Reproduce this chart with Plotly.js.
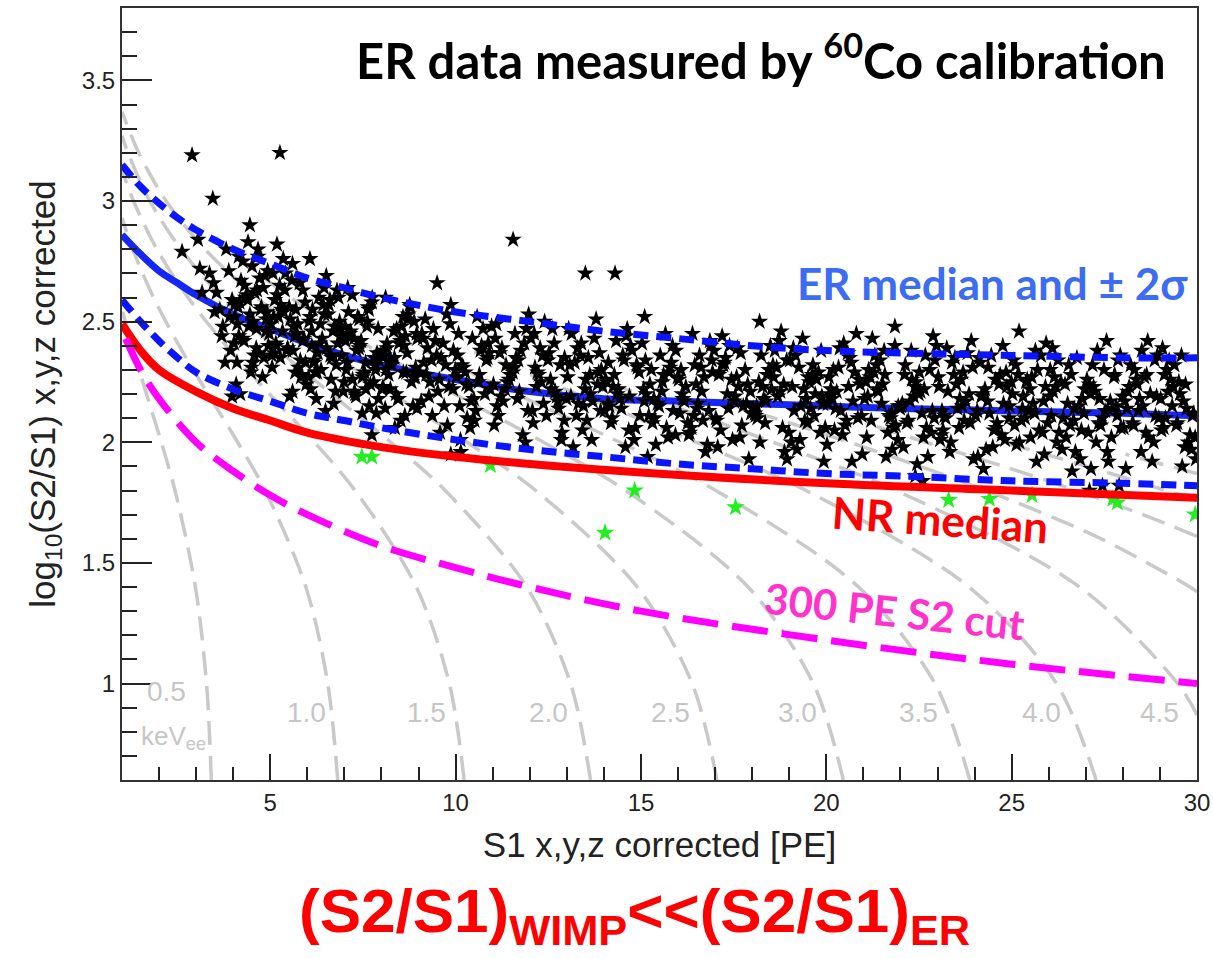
<!DOCTYPE html>
<html>
<head>
<meta charset="utf-8">
<script src="https://cdn.plot.ly/plotly-3.0.1.min.js"></script>
<style>
  html, body { margin: 0; padding: 0; background: #fff; }
  #chart { width: 1213px; height: 959px; }
</style>
</head>
<body>
<div id="chart"></div>
<script>
// ---- iso-energy contours (keVee), S1 [PE] vs log10(S2/S1) ----
const contourLabels = ['0.5', '1.0', '1.5', '2.0', '2.5', '3.0', '3.5', '4.0', '4.5', '5.0', '5.5', '6.0', '6.5'];
const contourS1 = [
  [3.41, 3.28, 2.98, 2.43, 2.06, 1.66, 1.27, 1.09, 1.0],
  [6.82, 6.55, 5.96, 4.86, 4.12, 3.32, 2.54, 1.85, 1.29, 1.0],
  [10.23, 9.83, 8.94, 7.29, 6.19, 4.98, 3.81, 2.78, 1.94, 1.31, 1.0],
  [13.64, 13.10, 11.92, 9.72, 8.25, 6.65, 5.08, 3.70, 2.59, 1.75, 1.16, 1.0],
  [17.05, 16.38, 14.90, 12.16, 10.31, 8.31, 6.35, 4.63, 3.24, 2.19, 1.45, 1.0],
  [20.46, 19.65, 17.89, 14.59, 12.37, 9.97, 7.63, 5.55, 3.88, 3.53],
  [23.87, 22.93, 20.87, 17.02, 14.43, 11.63, 8.90, 7.04],
  [27.28, 26.21, 23.85, 19.45, 16.49, 13.29, 10.5],
  [30.0, 29.48, 26.83, 21.88, 18.56, 14.95, 14.05],
  [30.0, 29.81, 27.41, 24.31, 20.62, 17.55],
  [30.0, 28.54, 26.74, 24.78, 22.68, 21.06],
  [30.0, 29.17, 27.03, 24.56],
  [30.0, 28.07]
];
const contourLog = [
  [0.6, 1.0, 1.4, 1.8, 2.0, 2.2, 2.4, 2.5, 2.55],
  [0.6, 1.0, 1.4, 1.8, 2.0, 2.2, 2.4, 2.6, 2.8, 2.93],
  [0.6, 1.0, 1.4, 1.8, 2.0, 2.2, 2.4, 2.6, 2.8, 3.0, 3.13],
  [0.6, 1.0, 1.4, 1.8, 2.0, 2.2, 2.4, 2.6, 2.8, 3.0, 3.2, 3.27],
  [0.6, 1.0, 1.4, 1.8, 2.0, 2.2, 2.4, 2.6, 2.8, 3.0, 3.2, 3.37],
  [0.6, 1.0, 1.4, 1.8, 2.0, 2.2, 2.4, 2.6, 2.8, 2.85],
  [0.6, 1.0, 1.4, 1.8, 2.0, 2.2, 2.4, 2.55],
  [0.6, 1.0, 1.4, 1.8, 2.0, 2.2, 2.375],
  [0.87, 1.0, 1.4, 1.8, 2.0, 2.2, 2.25],
  [1.38, 1.4, 1.6, 1.8, 2.0, 2.15],
  [1.61, 1.7, 1.8, 1.9, 2.0, 2.08],
  [1.76, 1.8, 1.9, 2.01],
  [1.87, 1.95]
];
// label anchors for the first nine contours
const contourLabelS1 = [2.2, 5.98, 9.22, 12.5, 15.8, 19.23, 22.5, 25.8, 29.0];
const contourLabelLog = [0.965, 0.88, 0.88, 0.88, 0.88, 0.88, 0.88, 0.88, 0.88];

// ---- ER band (median and +/- 2 sigma) ----
const bandS1 = [1, 1.5, 2, 2.5, 3, 4, 5, 6, 7, 8, 10, 12, 14, 16, 18, 20, 22, 25, 28, 30];
const erMedian = [2.86, 2.78, 2.71, 2.66, 2.61, 2.53, 2.47, 2.41, 2.36, 2.32, 2.26, 2.21, 2.18, 2.17, 2.16, 2.15, 2.14, 2.13, 2.12, 2.11];
const erPlus2s = [3.15, 3.06, 2.99, 2.93, 2.88, 2.80, 2.74, 2.68, 2.64, 2.60, 2.54, 2.50, 2.46, 2.43, 2.40, 2.38, 2.37, 2.36, 2.35, 2.35];
const erMinus2s = [2.59, 2.50, 2.42, 2.35, 2.29, 2.22, 2.17, 2.12, 2.09, 2.06, 2.01, 1.97, 1.94, 1.91, 1.89, 1.87, 1.86, 1.84, 1.83, 1.82];

// ---- NR median ----
const nrS1 = [1, 1.5, 2, 3, 4, 5, 6, 8, 10, 12, 15, 20, 25, 30];
const nrMedian = [2.49, 2.38, 2.30, 2.21, 2.14, 2.09, 2.04, 1.98, 1.94, 1.91, 1.875, 1.83, 1.80, 1.77];

// ---- 300 PE S2 threshold ----
const cutS1 = [1.1, 1.5, 2, 3, 4, 5, 6, 8, 10, 12, 15, 20, 25, 30];
const cutLog = [2.43, 2.30, 2.18, 2.00, 1.88, 1.78, 1.70, 1.57, 1.48, 1.40, 1.30, 1.18, 1.08, 1.00];

// ---- 60Co calibration events ----
const erS1 = [
  3.55,3.72,3.88,3.64,3.93,3.47,3.81,3.97,3.69,3.36,3.78,3.90,
  4.05,4.62,4.31,4.88,4.17,4.49,4.74,4.93,4.26,4.58,4.11,4.83,4.39,4.67,4.02,4.45,4.79,4.21,4.54,4.97,4.36,4.70,4.13,4.86,4.42,4.08,4.64,4.29,4.91,4.51,
  5.47,5.12,5.85,5.33,5.69,5.04,5.58,5.91,5.22,5.76,5.39,5.15,5.63,5.97,5.28,5.54,5.81,5.07,5.44,5.72,5.19,5.95,5.36,5.60,5.02,5.88,5.25,5.67,5.51,5.10,
  6.73,6.28,6.09,6.56,6.94,6.37,6.61,6.18,6.82,6.45,6.03,6.69,6.24,6.87,6.52,6.14,6.78,6.40,6.99,6.31,6.66,6.07,6.49,6.85,6.21,6.58,6.12,6.93,6.35,6.76,
  7.05,7.62,7.31,7.88,7.17,7.49,7.74,7.93,7.26,7.58,7.11,7.83,7.39,7.67,7.02,7.45,7.79,7.21,7.54,7.97,7.36,7.70,7.13,7.86,7.42,7.08,7.64,7.29,7.91,7.51,
  8.47,8.12,8.85,8.33,8.69,8.04,8.58,8.91,8.22,8.76,8.39,8.15,8.63,8.97,8.28,8.54,8.81,8.07,8.44,8.72,8.19,8.95,8.36,8.60,8.02,8.88,8.25,8.67,8.51,8.10,
  9.73,9.28,9.09,9.56,9.94,9.37,9.61,9.18,9.82,9.45,9.03,9.69,9.24,9.87,9.52,9.14,9.78,9.40,9.99,9.31,9.66,9.07,9.49,9.85,9.21,9.58,9.12,9.93,9.35,9.76,
  10.05,10.62,10.31,10.88,10.17,10.49,10.74,10.93,10.26,10.58,10.11,10.83,10.39,10.67,10.02,10.45,10.79,10.21,10.54,10.97,10.36,10.70,10.13,10.86,10.42,10.08,10.64,10.29,10.91,10.51,
  11.47,11.12,11.85,11.33,11.69,11.04,11.58,11.91,11.22,11.76,11.39,11.15,11.63,11.97,11.28,11.54,11.81,11.07,11.44,11.72,11.19,11.95,11.36,11.60,11.02,11.88,11.25,11.67,11.51,11.10,
  12.73,12.28,12.09,12.56,12.94,12.37,12.61,12.18,12.82,12.45,12.03,12.69,12.24,12.87,12.52,12.14,12.78,12.40,12.99,12.31,12.66,12.07,12.49,12.85,12.21,12.58,12.12,12.93,12.35,12.76,
  13.05,13.62,13.31,13.88,13.17,13.49,13.74,13.93,13.26,13.58,13.11,13.83,13.39,13.67,13.02,13.45,13.79,13.21,13.54,13.97,13.36,13.70,13.13,13.86,13.42,13.08,13.64,13.29,13.91,13.51,
  14.47,14.12,14.85,14.33,14.69,14.04,14.58,14.91,14.22,14.76,14.39,14.15,14.63,14.97,14.28,14.54,14.81,14.07,14.44,14.72,14.19,14.95,14.36,14.60,14.02,14.88,14.25,14.67,14.51,14.10,
  15.73,15.28,15.09,15.56,15.94,15.37,15.61,15.18,15.82,15.45,15.03,15.69,15.24,15.87,15.52,15.14,15.78,15.40,15.99,15.31,15.66,15.07,15.49,15.85,15.21,15.58,15.12,15.93,15.35,15.76,
  16.05,16.62,16.31,16.88,16.17,16.49,16.74,16.93,16.26,16.58,16.11,16.83,16.39,16.67,16.02,16.45,16.79,16.21,16.54,16.97,16.36,16.70,16.13,16.86,16.42,16.08,16.64,16.29,16.91,16.51,
  17.47,17.12,17.85,17.33,17.69,17.04,17.58,17.91,17.22,17.76,17.39,17.15,17.63,17.97,17.28,17.54,17.81,17.07,17.44,17.72,17.19,17.95,17.36,17.60,17.02,17.88,17.25,17.67,17.51,17.10,
  18.73,18.28,18.09,18.56,18.94,18.37,18.61,18.18,18.82,18.45,18.03,18.69,18.24,18.87,18.52,18.14,18.78,18.40,18.99,18.31,18.66,18.07,18.49,18.85,18.21,18.58,18.12,18.93,18.35,18.76,
  19.05,19.62,19.31,19.88,19.17,19.49,19.74,19.93,19.26,19.58,19.11,19.83,19.39,19.67,19.02,19.45,19.79,19.21,19.54,19.97,19.36,19.70,19.13,19.86,19.42,19.08,19.64,19.29,19.91,19.51,
  20.47,20.12,20.85,20.33,20.69,20.04,20.58,20.91,20.22,20.76,20.39,20.15,20.63,20.97,20.28,20.54,20.81,20.07,20.44,20.72,20.19,20.95,20.36,20.60,20.02,20.88,20.25,20.67,20.51,20.10,
  21.73,21.28,21.09,21.56,21.94,21.37,21.61,21.18,21.82,21.45,21.03,21.69,21.24,21.87,21.52,21.14,21.78,21.40,21.99,21.31,21.66,21.07,21.49,21.85,21.21,21.58,21.12,21.93,21.35,21.76,
  22.05,22.62,22.31,22.88,22.17,22.49,22.74,22.93,22.26,22.58,22.11,22.83,22.39,22.67,22.02,22.45,22.79,22.21,22.54,22.97,22.36,22.70,22.13,22.86,22.42,22.08,22.64,22.29,22.91,22.51,
  23.47,23.12,23.85,23.33,23.69,23.04,23.58,23.91,23.22,23.76,23.39,23.15,23.63,23.97,23.28,23.54,23.81,23.07,23.44,23.72,23.19,23.95,23.36,23.60,23.02,23.88,23.25,23.67,23.51,23.10,
  24.73,24.28,24.09,24.56,24.94,24.37,24.61,24.18,24.82,24.45,24.03,24.69,24.24,24.87,24.52,24.14,24.78,24.40,24.99,24.31,24.66,24.07,24.49,24.85,24.21,24.58,24.12,24.93,24.35,24.76,
  25.05,25.62,25.31,25.88,25.17,25.49,25.74,25.93,25.26,25.58,25.11,25.83,25.39,25.67,25.02,25.45,25.79,25.21,25.54,25.97,25.36,25.70,25.13,25.86,25.42,25.08,25.64,25.29,25.91,25.51,
  26.47,26.12,26.85,26.33,26.69,26.04,26.58,26.91,26.22,26.76,26.39,26.15,26.63,26.97,26.28,26.54,26.81,26.07,26.44,26.72,26.19,26.95,26.36,26.60,26.02,26.88,26.25,26.67,26.51,26.10,
  27.73,27.28,27.09,27.56,27.94,27.37,27.61,27.18,27.82,27.45,27.03,27.69,27.24,27.87,27.52,27.14,27.78,27.40,27.99,27.31,27.66,27.07,27.49,27.85,27.21,27.58,27.12,27.93,27.35,27.76,
  28.05,28.62,28.31,28.88,28.17,28.49,28.74,28.93,28.26,28.58,28.11,28.83,28.39,28.67,28.02,28.45,28.79,28.21,28.54,28.97,28.36,28.70,28.13,28.86,28.42,28.08,28.64,28.29,28.91,28.51,
  29.47,29.12,29.85,29.33,29.69,29.04,29.58,29.91,29.22,29.76,29.39,29.15,29.63,29.97,29.28,29.54,29.81,29.07,29.44,29.72,29.19,29.95,29.36,29.60,29.02,29.88,29.25,29.67,29.51,29.10,
  4.15,4.33,4.57,4.71,4.89,4.04,4.26,4.48,4.63,4.81,4.95,4.40,4.19,4.76,4.53,
  5.09,5.27,5.41,5.66,5.83,5.94,5.16,5.35,5.52,5.74,5.88,5.05,5.30,5.61,5.79,
  6.11,6.26,6.43,6.62,6.80,6.97,6.05,6.33,6.51,6.71,6.90,6.18,6.46,6.64,6.84,
  7.03,7.22,7.40,7.57,7.75,7.92,7.14,7.33,7.48,7.66,7.84,7.09,7.27,7.61,7.80,
  8.06,8.24,8.41,8.59,8.78,8.96,8.15,8.35,8.52,8.70,8.87,8.11,8.46,8.64,8.92,
  2.89,5.26,3.45,4.45,4.15,4.67,5.18,5.60,6.07,2.62,3.05,3.10,3.16,3.50,9.50,11.55,13.50,14.30,15.10,21.85,25.20,18.20,3.97,4.10,7.74,9.87,10.14,27.10,27.45,27.90,22.60,22.40
];
const erLog = [
  2.62,2.48,2.71,2.55,2.38,2.66,2.80,2.59,2.44,2.70,2.33,2.52,
  2.52,2.39,2.65,2.46,2.58,2.31,2.55,2.71,2.43,2.62,2.49,2.35,2.59,2.77,2.41,2.53,2.27,2.67,2.50,2.45,2.61,2.37,2.56,2.69,2.48,2.24,2.63,2.42,2.54,2.73,
  2.39,2.59,2.28,2.46,2.55,2.36,2.67,2.43,2.52,2.31,2.63,2.41,2.48,2.24,2.57,2.51,2.34,2.70,2.38,2.45,2.61,2.33,2.54,2.21,2.49,2.42,2.65,2.29,2.56,2.37,
  2.48,2.37,2.22,2.53,2.44,2.30,2.59,2.34,2.41,2.64,2.27,2.46,2.18,2.50,2.39,2.55,2.32,2.43,2.25,2.60,2.35,2.52,2.13,2.47,2.29,2.57,2.40,2.36,2.49,2.21,
  2.30,2.50,2.19,2.37,2.46,2.27,2.58,2.34,2.43,2.22,2.54,2.32,2.39,2.15,2.48,2.42,2.25,2.61,2.29,2.36,2.52,2.24,2.45,2.12,2.40,2.33,2.56,2.20,2.47,2.28,
  2.41,2.30,2.15,2.46,2.37,2.23,2.52,2.27,2.34,2.57,2.20,2.39,2.11,2.43,2.32,2.48,2.25,2.36,2.18,2.53,2.28,2.45,2.06,2.40,2.22,2.50,2.33,2.29,2.42,2.14,
  2.32,2.19,2.45,2.26,2.38,2.11,2.35,2.51,2.23,2.42,2.29,2.15,2.39,2.57,2.21,2.33,2.07,2.47,2.30,2.25,2.41,2.17,2.36,2.49,2.28,2.04,2.43,2.22,2.34,2.53,
  2.36,2.25,2.10,2.41,2.32,2.18,2.47,2.22,2.29,2.52,2.15,2.34,2.06,2.38,2.27,2.43,2.20,2.31,2.13,2.48,2.23,2.40,2.01,2.35,2.17,2.45,2.28,2.24,2.37,2.09,
  2.28,2.15,2.41,2.22,2.34,2.07,2.31,2.47,2.19,2.38,2.25,2.11,2.35,2.53,2.17,2.29,2.03,2.43,2.26,2.21,2.37,2.13,2.32,2.45,2.24,2.00,2.39,2.18,2.30,2.49,
  2.19,2.39,2.08,2.26,2.35,2.16,2.47,2.23,2.32,2.11,2.43,2.21,2.28,2.04,2.37,2.31,2.14,2.50,2.18,2.25,2.41,2.13,2.34,2.01,2.29,2.22,2.45,2.09,2.36,2.17,
  2.47,2.28,2.16,2.37,1.98,2.22,2.43,2.30,2.11,2.35,2.19,2.24,2.41,2.01,2.27,2.15,2.51,2.33,2.09,2.23,2.36,2.17,2.45,2.29,2.05,2.32,2.20,2.39,2.13,2.26,
  2.14,2.33,2.06,2.42,2.19,2.26,1.98,2.31,2.10,2.38,2.22,2.15,2.47,2.11,2.28,2.34,2.01,2.25,2.18,2.40,2.08,2.29,2.20,2.44,2.13,2.32,2.23,2.05,2.36,2.16,
  2.02,2.30,2.17,2.21,2.38,2.10,2.28,1.94,2.33,2.16,2.41,2.06,2.24,2.13,2.36,2.20,2.31,1.99,2.27,2.08,2.45,2.22,2.15,2.40,2.11,2.25,2.34,2.03,2.18,2.29,
  2.12,2.31,2.04,2.40,2.17,2.24,1.96,2.29,2.08,2.36,2.20,2.13,2.45,2.09,2.26,2.32,1.99,2.23,2.16,2.38,2.06,2.27,2.18,2.42,2.11,2.30,2.21,2.03,2.34,2.14,
  2.01,2.29,2.16,2.20,2.37,2.09,2.27,1.93,2.32,2.15,2.40,2.05,2.23,2.12,2.35,2.19,2.30,1.98,2.26,2.07,2.44,2.21,2.14,2.39,2.10,2.24,2.33,2.02,2.17,2.28,
  2.42,2.23,2.11,2.32,1.93,2.17,2.38,2.25,2.06,2.30,2.14,2.19,2.36,1.96,2.22,2.10,2.46,2.28,2.04,2.18,2.31,2.12,2.40,2.24,2.00,2.27,2.15,2.34,2.08,2.21,
  2.00,2.28,2.15,2.19,2.36,2.08,2.26,1.92,2.31,2.14,2.39,2.04,2.22,2.11,2.34,2.18,2.29,1.97,2.25,2.06,2.43,2.20,2.13,2.38,2.09,2.23,2.32,2.01,2.16,2.27,
  2.41,2.22,2.10,2.31,1.92,2.16,2.37,2.24,2.05,2.29,2.13,2.18,2.35,1.95,2.21,2.09,2.45,2.27,2.03,2.17,2.30,2.11,2.39,2.23,1.99,2.26,2.14,2.33,2.07,2.20,
  2.10,2.29,2.02,2.38,2.15,2.22,1.94,2.27,2.06,2.34,2.18,2.11,2.43,2.07,2.24,2.30,1.97,2.21,2.14,2.36,2.04,2.25,2.16,2.40,2.09,2.28,2.19,2.01,2.32,2.12,
  2.16,2.02,2.26,2.44,2.08,2.20,1.94,2.34,2.17,2.12,2.28,2.04,2.23,2.36,2.15,1.91,2.30,2.09,2.21,2.40,2.19,2.06,2.32,2.13,2.25,1.98,2.22,2.38,2.10,2.29,
  2.35,2.13,2.20,1.96,2.29,2.23,2.06,2.42,2.10,2.17,2.33,2.05,2.26,1.93,2.21,2.14,2.37,2.01,2.28,2.09,2.11,2.31,2.00,2.18,2.27,2.08,2.39,2.15,2.24,2.03,
  2.03,2.22,1.94,2.26,2.15,2.31,2.08,2.19,2.01,2.36,2.11,2.28,1.89,2.23,2.05,2.33,2.16,2.12,2.25,1.97,2.24,2.13,1.98,2.29,2.20,2.06,2.35,2.10,2.17,2.40,
  2.34,2.12,2.19,1.95,2.28,2.22,2.05,2.41,2.09,2.16,2.32,2.04,2.25,1.92,2.20,2.13,2.36,2.00,2.27,2.08,2.10,2.30,1.99,2.17,2.26,2.07,2.38,2.14,2.23,2.02,
  2.02,2.21,1.93,2.25,2.14,2.30,2.07,2.18,2.00,2.35,2.10,2.27,1.88,2.22,2.04,2.32,2.15,2.11,2.24,1.96,2.23,2.12,1.97,2.28,2.19,2.05,2.34,2.09,2.16,2.39,
  2.14,2.00,2.24,2.42,2.06,2.18,1.92,2.32,2.15,2.10,2.26,2.02,2.21,2.34,2.13,1.89,2.28,2.07,2.19,2.38,2.17,2.04,2.30,2.11,2.23,1.96,2.20,2.36,2.08,2.27,
  2.17,2.04,2.30,2.11,2.23,1.96,2.20,2.36,2.08,2.27,2.14,2.00,2.24,2.42,2.06,2.18,1.92,2.32,2.15,2.10,2.26,2.02,2.21,2.34,2.13,1.89,2.28,2.07,2.19,2.38,
  2.08,2.28,1.97,2.15,2.24,2.05,2.36,2.12,2.21,2.00,2.32,2.10,2.17,1.93,2.26,2.20,2.03,2.39,2.07,2.14,2.30,2.02,2.23,1.90,2.18,2.11,2.34,1.98,2.25,2.06,
  2.44,2.60,2.36,2.68,2.51,2.57,2.75,2.29,2.47,2.64,2.40,2.83,2.20,2.56,2.33,
  2.52,2.35,2.70,2.44,2.27,2.58,2.40,2.76,2.19,2.49,2.63,2.31,2.55,2.38,2.66,
  2.46,2.29,2.57,2.36,2.63,2.21,2.50,2.41,2.69,2.16,2.44,2.33,2.53,2.26,2.60,
  2.42,2.26,2.51,2.33,2.60,2.18,2.45,2.38,2.12,2.55,2.30,2.64,2.21,2.48,2.35,
  2.38,2.22,2.47,2.29,2.56,2.14,2.41,2.35,2.09,2.51,2.27,2.60,2.18,2.44,2.31,
  3.19,3.20,3.01,2.90,2.77,2.80,2.82,2.74,2.76,2.79,2.84,2.72,2.62,2.54,2.66,2.84,2.70,2.70,2.52,2.48,2.46,2.50,2.19,2.33,2.03,1.95,1.96,1.80,1.82,1.82,1.84,1.86
];

// ---- events below the ER band ----
const lowS1 = [7.47, 7.74, 10.94, 14.03, 14.83, 17.55, 23.30, 24.40, 25.55, 27.73, 27.85, 29.95];
const lowLog = [1.94, 1.94, 1.905, 1.625, 1.80, 1.73, 1.76, 1.765, 1.78, 1.765, 1.75, 1.70];

const traces = [];
contourLabels.forEach((lab, i) => {
  traces.push({
    x: contourS1[i], y: contourLog[i], mode: 'lines', name: lab + ' keVee',
    line: { color: '#c9c9c9', width: 3.5, dash: '24px,11px', shape: 'spline', smoothing: 0.9 },
    hoverinfo: 'skip', showlegend: false
  });
});
traces.push({
  x: bandS1, y: erMedian, mode: 'lines', name: 'ER median',
  line: { color: '#1626f5', width: 7, shape: 'spline' }, showlegend: false
});
traces.push({
  x: erS1, y: erLog, mode: 'markers', name: 'ER events',
  marker: { symbol: 'star', size: 13, color: '#000000', line: { width: 0 } }, showlegend: false
});
traces.push({
  x: lowS1, y: lowLog, mode: 'markers', name: 'low events',
  marker: { symbol: 'star', size: 14, color: '#22ee22', line: { width: 0 } }, showlegend: false
});
traces.push({
  x: bandS1, y: erPlus2s, mode: 'lines', name: 'ER +2σ',
  line: { color: '#0a14ff', width: 7, dash: '15px,8px', shape: 'spline' }, showlegend: false
});
traces.push({
  x: bandS1, y: erMinus2s, mode: 'lines', name: 'ER -2σ',
  line: { color: '#0a14ff', width: 7, dash: '15px,8px', shape: 'spline' }, showlegend: false
});
traces.push({
  x: nrS1, y: nrMedian, mode: 'lines', name: 'NR median',
  line: { color: '#ff0000', width: 8, shape: 'spline' }, showlegend: false
});
traces.push({
  x: cutS1, y: cutLog, mode: 'lines', name: '300 PE S2 cut',
  line: { color: '#ff00ff', width: 7, dash: '36px,14px', shape: 'spline' }, showlegend: false
});

const labelFont = { family: 'Liberation Sans, Arial, sans-serif', size: 28, color: '#c6c6c6' };
const annotations = [];
contourLabelS1.forEach((xv, i) => {
  annotations.push({
    x: xv, y: contourLabelLog[i], xref: 'x', yref: 'y', text: contourLabels[i],
    showarrow: false, font: labelFont
  });
});
annotations.push({
  x: 2.4, y: 0.775, xref: 'x', yref: 'y', text: 'keV<sub>ee</sub>', showarrow: false,
  font: { family: 'Liberation Sans, Arial, sans-serif', size: 26, color: '#c6c6c6' }
});
annotations.push({
  x: 29.22, y: 3.6, xref: 'x', yref: 'y', xanchor: 'right', yanchor: 'middle',
  text: '<b>ER data measured by <sup>60</sup>Co calibration</b>', showarrow: false,
  font: { family: 'Lato, Open Sans, sans-serif', size: 49, color: '#000000' }
});
annotations.push({
  x: 29.8, y: 2.66, xref: 'x', yref: 'y', xanchor: 'right', yanchor: 'middle',
  text: '<b>ER median and ± 2σ</b>', showarrow: false,
  font: { family: 'Lato, Open Sans, sans-serif', size: 44, color: '#3b6cf2' }
});
annotations.push({
  x: 23.07, y: 1.68, xref: 'x', yref: 'y', textangle: 4,
  text: '<b>NR median</b>', showarrow: false,
  font: { family: 'Lato, Open Sans, sans-serif', size: 44, color: '#ff0000' }
});
annotations.push({
  x: 21.85, y: 1.30, xref: 'x', yref: 'y', textangle: 6,
  text: '<b>300 PE S2 cut</b>', showarrow: false,
  font: { family: 'Lato, Open Sans, sans-serif', size: 42, color: '#ff33cc' }
});
annotations.push({
  x: 0.477, y: -0.175, xref: 'paper', yref: 'paper', xanchor: 'center', yanchor: 'middle',
  text: '<b>(S2/S1)<sub>WIMP</sub><<(S2/S1)<sub>ER</sub></b>', showarrow: false,
  font: { family: 'Liberation Sans, Arial, sans-serif', size: 62, color: '#ff0000' }
});

const axisFont = { family: 'Liberation Sans, Arial, sans-serif', size: 24, color: '#222222' };
const layout = {
  width: 1213, height: 959, autosize: false,
  margin: { l: 122, r: 16, t: 8, b: 179 },
  paper_bgcolor: '#ffffff', plot_bgcolor: '#ffffff',
  showlegend: false, hovermode: false,
  xaxis: {
    range: [1, 30], tick0: 0, dtick: 5, ticks: 'inside', ticklen: 26, tickwidth: 2, tickcolor: '#222',
    minor: { dtick: 1, ticks: 'inside', ticklen: 13, tickwidth: 2, tickcolor: '#222' },
    showline: true, linecolor: '#333', linewidth: 2, mirror: true, showgrid: false, zeroline: false,
    tickfont: axisFont,
    title: { text: 'S1 x,y,z corrected [PE]', font: { family: 'Liberation Sans, Arial, sans-serif', size: 35, color: '#222' }, standoff: 18 }
  },
  yaxis: {
    range: [0.6, 3.8], tick0: 0, dtick: 0.5, ticks: 'inside', ticklen: 30, tickwidth: 2, tickcolor: '#222',
    minor: { dtick: 0.1, ticks: 'inside', ticklen: 15, tickwidth: 2, tickcolor: '#222' },
    showline: true, linecolor: '#333', linewidth: 2, mirror: true, showgrid: false, zeroline: false,
    tickfont: axisFont,
    title: { text: 'log<sub>10</sub>(S2/S1) x,y,z corrected', font: { family: 'Liberation Sans, Arial, sans-serif', size: 35, color: '#222' }, standoff: 16 }
  },
  annotations: annotations
};

Plotly.newPlot('chart', traces, layout, { staticPlot: true, displayModeBar: false });
</script>
</body>
</html>
